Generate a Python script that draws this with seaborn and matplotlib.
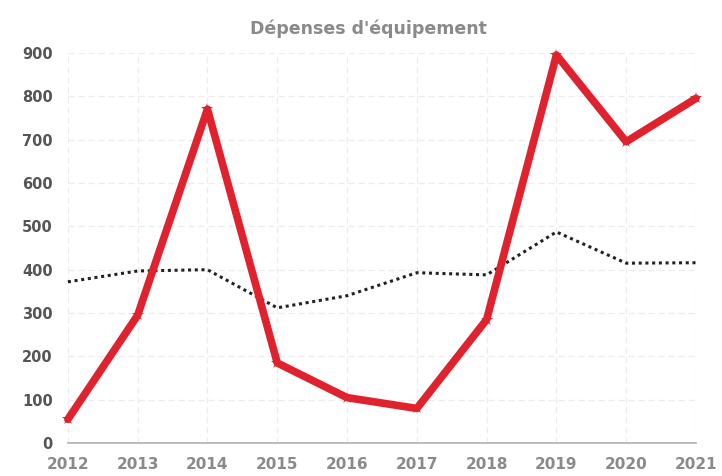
import numpy as np
import pandas as pd
import seaborn as sns
import matplotlib
matplotlib.use("Agg")
import matplotlib.pyplot as plt

years = [2012, 2013, 2014, 2015, 2016, 2017, 2018, 2019, 2020, 2021]
depenses = [55, 295, 770, 185, 105, 80, 285, 895, 695, 795]
moyenne = [372, 397, 400, 312, 340, 393, 388, 487, 415, 416]
yticks = [0, 100, 200, 300, 400, 500, 600, 700, 800, 900]
title = "Dépenses d'équipement"

sns.set_theme(style="white")
plt.rcParams['font.family'] = ['DejaVu Sans']

df = pd.DataFrame({"Année": years, "Dépenses": depenses, "Moyenne": moyenne})

fig = plt.figure(figsize=(7.22, 4.76), dpi=100)
ax = fig.add_axes([0.094, 0.069, 0.870, 0.820])

sns.lineplot(data=df, x="Année", y="Moyenne", ax=ax, color="#222222",
             linewidth=2.2, linestyle=(0, (1, 1.2)), clip_on=False)
sns.lineplot(data=df, x="Année", y="Dépenses", ax=ax, color="#e0222e",
             linewidth=5.5, marker="*", markersize=9, markeredgewidth=0,
             clip_on=False)

ax.set_xlim(years[0], years[-1])
ax.set_ylim(0, 900)
ax.set_xticks(years)
ax.set_yticks(yticks)
ax.set_xlabel("")
ax.set_ylabel("")
ax.grid(True, color="#ececec", linewidth=0.9, linestyle=(0, (5, 3)))
for s in ["top", "right", "left"]:
    ax.spines[s].set_visible(False)
ax.spines["bottom"].set_color("#b0b0b0")
ax.spines["bottom"].set_linewidth(1.2)
ax.tick_params(axis="x", colors="#8a8a8a", labelsize=11, length=0, pad=10)
ax.tick_params(axis="y", colors="#555555", labelsize=10.5, length=0, pad=11)
for lab in ax.get_yticklabels():
    lab.set_fontweight("bold")
for lab in ax.get_xticklabels():
    lab.set_fontweight("bold")

fig.text(0.51, 0.94, title, ha="center", va="center", fontsize=12.5,
         fontweight="bold", color="#8a8a8a")

fig.savefig("out.png", dpi=100, facecolor="white")
